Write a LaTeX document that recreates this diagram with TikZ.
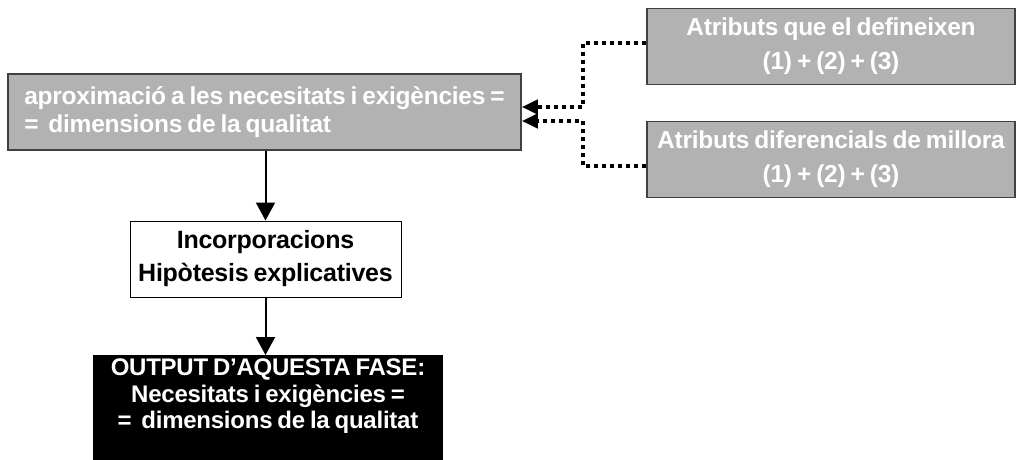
\documentclass[tikz,border=0pt]{standalone}
\usepackage{fontspec}
\setmainfont{Liberation Sans}[WordSpace=0.75,LetterSpace=-1]
\usetikzlibrary{positioning,arrows.meta}

\begin{document}
\begin{tikzpicture}[x=1pt,y=-1pt,
    greybox/.style={draw=black!75,line width=1.5pt,fill=black!30,text=white,minimum height=76pt,inner ysep=0pt},
    whitebox/.style={draw=black,line width=1pt,fill=white,font=\bfseries\fontsize{25}{33}\selectfont,align=center,minimum width=271pt,minimum height=76pt},
    outbox/.style={fill=black,text=white,font=\bfseries\fontsize{24}{26.5}\selectfont,inner xsep=5pt,inner ysep=4pt},
    flow/.style={-{Triangle[length=18pt,width=19pt]},line width=2pt},
    dots/.style={-{Triangle[length=16pt,width=14pt]},line width=4pt,dash pattern=on 4pt off 4pt}]
    \useasboundingbox (0,0) rectangle (1016,459);

    \node[greybox,font=\bfseries\fontsize{24.5}{28}\selectfont,align=left,minimum width=513pt] (approx) at (264.5,112)
        {aproximació a les necesitats i exigències =\\=~~dimensions de la qualitat};
    \node[greybox,font=\bfseries\fontsize{24.5}{34}\selectfont,align=center,minimum width=368pt] (rtop) at (831,46.5)
        {Atributs que el defineixen\\(1) + (2) + (3)};
    \node[greybox,font=\bfseries\fontsize{24.5}{34}\selectfont,align=center,minimum width=368pt] (rbot) at (831,159.5)
        {Atributs diferencials de millora\\(1) + (2) + (3)};
    \coordinate (bend) at (583,112);

    \node[whitebox] (incorp) at (265.5,259) {Incorporacions\\Hipòtesis explicatives};
    \node[outbox,anchor=north] (output) at (268,355)
        {\parbox[t][100pt][t]{340pt}{\centering OUTPUT D’AQUESTA FASE:\\Necesitats i exigències =\\=~~dimensions de la qualitat}};

    \draw[flow] (approx.south -| incorp.north) -- (incorp.north);
    \draw[flow] (incorp.south) -- (output.north -| incorp.south);

    \draw[dots] ([yshift=3.5pt]rtop.west) -| ([yshift=5pt]bend) -- ([yshift=5pt]approx.east);
    \draw[dots] ([yshift=-6.5pt]rbot.west) -| ([yshift=-9pt]bend) -- ([yshift=-9pt]approx.east);
\end{tikzpicture}
\end{document}
